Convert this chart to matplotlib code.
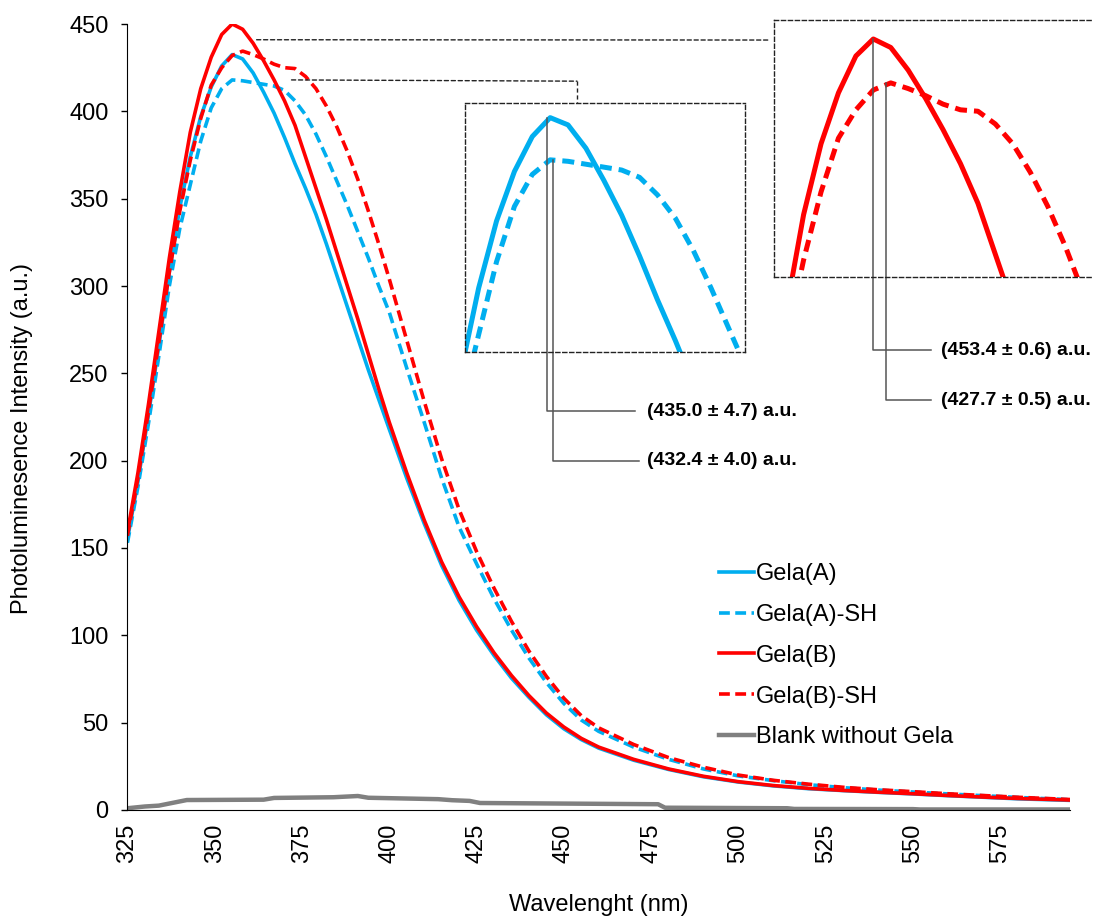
import matplotlib
matplotlib.use("Agg")
import matplotlib.pyplot as plt
from matplotlib.patches import ConnectionPatch

plt.rcParams['font.family'] = ['Liberation Sans', 'DejaVu Sans']
plt.rcParams['lines.solid_joinstyle'] = 'round'
plt.rcParams['lines.dash_joinstyle'] = 'round'

# wavelength grid (nm)
wl = [325, 328, 331, 334, 337, 340, 343, 346, 349, 352, 355, 358, 361, 364, 367, 370, 373,
      376, 379, 382, 385, 388, 391, 394, 397, 400, 405, 410, 415, 420, 425, 430, 435, 440,
      445, 450, 455, 460, 470, 480, 490, 500, 510, 520, 530, 540, 550, 560, 570, 580, 595]

gela_a = [155, 188, 226, 266, 308, 345, 374, 397, 414, 426, 432.5, 430, 422, 411, 399, 385, 370,
          356, 341, 324, 306, 288, 270, 252, 235, 218, 190, 164, 140, 120, 103, 88.5, 75.5, 64.5,
          54.5, 46.5, 40.3, 35.4, 28.5, 23.2, 19, 16, 13.8, 12.2, 11.1, 10.1, 9.2, 8.2, 7.3, 6.4, 5.5]

gela_a_sh = [153, 185, 221, 260, 300, 333, 358, 383, 402, 413, 418, 417.5, 416.5, 415.5, 414.5, 412, 406,
             398, 387, 374, 360, 346, 331, 316, 300, 285, 253, 222, 190, 162, 141, 121, 103, 87,
             73, 61, 51.5, 45, 36, 29, 23.5, 19.5, 16.8, 14.5, 12.8, 11.4, 10.3, 9.2, 8.2, 7.2, 5.9]

gela_b = [159, 193, 232, 274, 316, 354, 388, 413, 431, 444, 450, 447, 439, 429, 418, 406, 392,
          374, 356, 338, 319, 300, 281, 261, 241, 222, 193, 166, 142, 122, 105, 90, 77, 65.5,
          55.5, 47.5, 41, 36, 29, 23.5, 19.3, 16.2, 14, 12.4, 11.2, 10.2, 9.3, 8.3, 7.4, 6.6, 5.7]

gela_b_sh = [157, 190, 228, 268, 308, 343, 372, 396, 415, 425, 432, 434.5, 432.5, 430, 427, 425, 424.5,
             420, 413, 403, 391, 377, 361, 343, 324, 304, 269, 234, 201, 172, 148, 127, 108, 91,
             76.5, 64, 54, 47, 37.5, 30, 24.5, 20, 17, 14.8, 13, 11.6, 10.5, 9.3, 8.3, 7.3, 6]

blank_wl = [325, 330, 334, 342, 364, 367, 384, 391, 394, 414, 418, 423, 426, 477, 479, 514, 516,
            550, 552, 595]
blank = [1, 2, 2.5, 5.7, 5.9, 6.9, 7.3, 8, 7, 6.2, 5.6, 5.2, 4, 3.3, 1.3, 1, 0.6, 0.5, 0.3, 0.3]

blue = '#00AEEF'
red = '#FF0000'
grey = '#808080'

fig = plt.figure(figsize=(10.93, 9.17), dpi=100)
ax = fig.add_axes([0.1166, 0.1167, 0.8624, 0.8571])

lw = 2.6
ax.plot(wl, gela_a, color=blue, lw=lw, label='Gela(A)')
ax.plot(wl, gela_a_sh, color=blue, lw=lw, dashes=(3, 1.5), label='Gela(A)-SH')
ax.plot(wl, gela_b, color=red, lw=lw, label='Gela(B)')
ax.plot(wl, gela_b_sh, color=red, lw=lw, dashes=(3, 1.5), label='Gela(B)-SH')
ax.plot(blank_wl, blank, color=grey, lw=3.2, label='Blank without Gela')

ax.set_xlim(325, 595)
ax.set_ylim(0, 450)
ax.set_xticks(range(325, 576, 25))
ax.set_yticks(range(0, 451, 50))
ax.spines['top'].set_visible(False)
ax.spines['right'].set_visible(False)
ax.tick_params(axis='y', direction='out', length=4.5, width=1, labelsize=17, pad=9)
ax.tick_params(axis='x', length=0, labelsize=17, pad=10, labelrotation=90)
ax.set_xlabel('Wavelenght (nm)', fontsize=17, labelpad=22)
ax.set_ylabel('Photoluminesence Intensity (a.u.)', fontsize=17)
ax.yaxis.set_label_coords(-0.1, 0.473)

ax.legend(loc='upper left', bbox_to_anchor=(0.628, 0.3144), frameon=False, fontsize=17,
          handlelength=1.45, handletextpad=0.1, labelspacing=0.8, borderpad=0, borderaxespad=0)

box_style = dict(color='#222222', lw=1.0, ls=(0, (3, 2)))
lead = dict(color='#555555', lw=1.1, clip_on=False)

# inset (A)
ins1 = fig.add_axes([0.4254, 0.6161, 0.2562, 0.2715])
ins1.plot(wl, gela_a, color=blue, lw=3.6)
ins1.plot(wl, gela_a_sh, color=blue, lw=3.6, dashes=(2.4, 1.4))
ins1.set_xlim(340.7, 387.7)
ins1.set_ylim(352, 437.5)
ins1.set_xticks([])
ins1.set_yticks([])
for s in ins1.spines.values():
    s.set_linestyle((0, (3, 2)))
    s.set_linewidth(1.0)
    s.set_color('#222222')

ins1.plot([354.5, 354.5, 369.2], [432.5, 331.7, 331.7], **lead)
ins1.plot([355.5, 355.5, 369.9], [418, 314.6, 314.6], **lead)
ins1.text(371.3, 331.7, '(435.0 ± 4.7) a.u.', fontsize=14, fontweight='bold', va='center')
ins1.text(371.3, 314.6, '(432.4 ± 4.0) a.u.', fontsize=14, fontweight='bold', va='center')

# inset (B)
ins2 = fig.add_axes([0.7081, 0.6979, 0.2919, 0.2803])
ins2.plot(wl, gela_b, color=red, lw=3.6)
ins2.plot(wl, gela_b_sh, color=red, lw=3.6, dashes=(2.4, 1.4))
ins2.set_xlim(337.9, 392.8)
ins2.set_ylim(366, 456.7)
ins2.set_xticks([])
ins2.set_yticks([])
ins2.spines['right'].set_visible(False)
for k in ['left', 'top', 'bottom']:
    ins2.spines[k].set_linestyle((0, (3, 2)))
    ins2.spines[k].set_linewidth(1.0)
    ins2.spines[k].set_color('#222222')

ins2.plot([355.0, 355.0, 364.9], [450, 340.2, 340.2], **lead)
ins2.plot([357.1, 357.1, 364.9], [434.5, 322.6, 322.6], **lead)
ins2.text(366.6, 340.2, '(453.4 ± 0.6) a.u.', fontsize=14, fontweight='bold', va='center')
ins2.text(366.6, 322.6, '(427.7 ± 0.5) a.u.', fontsize=14, fontweight='bold', va='center')

# dashed connectors from the main peaks to the insets
con1 = ConnectionPatch(xyA=(362, 441), coordsA=ax.transData,
                       xyB=(-0.013, 0.922), coordsB=ins2.transAxes, **box_style)
fig.add_artist(con1)
con2 = ConnectionPatch(xyA=(372, 418), coordsA=ax.transData,
                       xyB=(0.4, 1.088), coordsB=ins1.transAxes, **box_style)
fig.add_artist(con2)
ins1.plot([0.4, 0.4], [1.088, 1.0], transform=ins1.transAxes, clip_on=False, **box_style)

fig.savefig('out.png', dpi=100)
